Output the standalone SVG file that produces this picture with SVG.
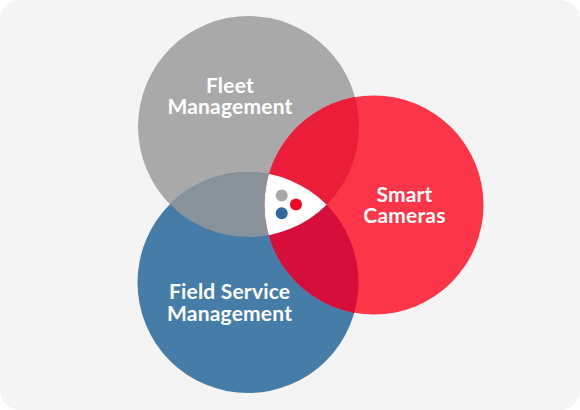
<svg xmlns="http://www.w3.org/2000/svg" width="580" height="410" viewBox="0 0 580 410">
<style>
.lbl{font-family:Lato,"Open Sans","Liberation Sans",sans-serif;font-weight:700;font-size:21px;letter-spacing:0.2px;fill:#ffffff;text-anchor:middle}
</style>
<defs>
<clipPath id="cGray"><circle cx="248.5" cy="126.5" r="110.5"/></clipPath>
<clipPath id="cBlue"><circle cx="248" cy="282.5" r="110.5"/></clipPath>
</defs>
<rect x="0" y="0" width="580" height="410" fill="#ffffff"/>
<rect x="0" y="0" width="580" height="410" rx="20" ry="20" fill="#f4f4f4"/>
<g id="fleet">
<circle cx="248.5" cy="126.5" r="110.5" fill="#a9a9a9"/>
</g>
<g id="field-service">
<circle cx="248" cy="282.5" r="110.5" fill="#467ca8"/>
</g>
<g id="smart-cameras">
<circle cx="374" cy="205" r="109.5" fill="#fd3548"/>
</g>
<g id="overlaps">
<circle cx="248" cy="282.5" r="110.5" fill="#88929b" clip-path="url(#cGray)"/>
<circle cx="374" cy="205" r="109.5" fill="#ec1d38" clip-path="url(#cGray)"/>
<circle cx="374" cy="205" r="109.5" fill="#d60e3a" clip-path="url(#cBlue)"/>
<g clip-path="url(#cBlue)">
<circle cx="374" cy="205" r="109.5" fill="#ffffff" clip-path="url(#cGray)"/>
</g>
</g>
<g id="center-dots">
<circle cx="281.7" cy="195.5" r="6" fill="#a8a8a8"/>
<circle cx="296" cy="204.5" r="6" fill="#ee0a24"/>
<circle cx="281.7" cy="213.3" r="6" fill="#2d6a9e"/>
</g>
<g id="labels">
<text class="lbl" x="230" y="93">Fleet<tspan x="230" dy="21">Management</tspan></text>
<text class="lbl" x="404.5" y="202">Smart<tspan x="404.5" dy="21">Cameras</tspan></text>
<text class="lbl" x="229.6" y="298.5">Field Service<tspan x="229.6" dy="22">Management</tspan></text>
</g>
<g id="connectors"/>
</svg>
